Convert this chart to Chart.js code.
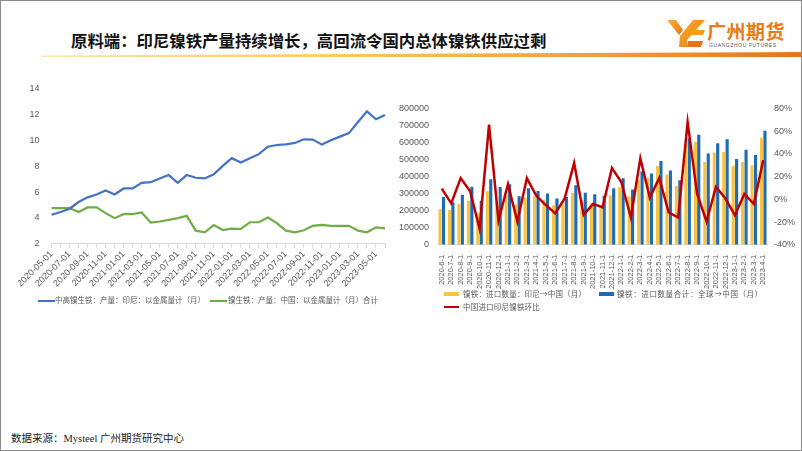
<!DOCTYPE html>
<html><head><meta charset="utf-8">
<script src="https://cdn.jsdelivr.net/npm/chart.js@4/dist/chart.umd.min.js"></script>
<style>
html,body{margin:0;padding:0;background:#fff;}
#slide{position:relative;width:802px;height:451px;overflow:hidden;box-sizing:border-box;border:1px solid #8a8a8a;font-family:"Noto Sans CJK SC","Noto Sans",sans-serif;}
#title{position:absolute;left:70px;top:27px;font-size:16.4px;font-weight:bold;color:#111;white-space:nowrap;letter-spacing:0px;}
#rule{position:absolute;left:40px;top:51px;width:762px;height:5px;background:linear-gradient(to right,#fde7a8 0%,#f8c75a 40%,#f0952e 80%,#e8731a 100%);clip-path:polygon(0 70%,100% 0,100% 100%,0 100%);}
#logoTxt{position:absolute;left:706px;top:16px;font-size:19px;font-weight:bold;color:#e77b14;letter-spacing:0.5px;white-space:nowrap;}
#logoSub{position:absolute;left:708px;top:41px;font-size:5px;color:#555;letter-spacing:0.6px;white-space:nowrap;font-family:"Liberation Sans",sans-serif;}
#c1wrap{position:absolute;left:17px;top:73px;width:384px;height:216px;}
#c2wrap{position:absolute;left:386px;top:94px;width:414px;height:196px;}
.leg{position:absolute;white-space:nowrap;color:#595959;}
.sw{position:absolute;}
#foot{position:absolute;left:10px;top:429px;font-size:10.5px;color:#222;font-family:"Liberation Serif","Noto Sans CJK SC",serif;white-space:nowrap;}
</style></head>
<body>
<div id="slide">
  <div id="title">原料端：印尼镍铁产量持续增长，高回流令国内总体镍铁供应过剩</div>
  <div id="rule"></div>
  <svg style="position:absolute;left:666px;top:17px" width="40" height="30" viewBox="0 0 40 30">
    <defs><linearGradient id="lg" x1="0" y1="0" x2="1" y2="1"><stop offset="0" stop-color="#f9b233"/><stop offset="1" stop-color="#e8731a"/></linearGradient></defs>
    <polygon points="0,2 9,2 16,12 12,17" fill="url(#lg)"/>
    <polygon points="13,18 26,2 38,2 20,22 20,29 12,29" fill="url(#lg)"/>
    <polygon points="24,12 38,12 36,17 22,17" fill="#f39c1e"/>
    <polygon points="21,23 36,23 34,29 20,29" fill="#e8731a"/>
  </svg>
  <div id="logoTxt">广州期货</div>
  <div id="logoSub">GUANGZHOU FUTURES</div>

  <div id="c1wrap"><canvas id="c1"></canvas></div>
  <div id="c2wrap"><canvas id="c2"></canvas></div>

  <!-- left legend -->
  <div class="sw" style="left:37px;top:299px;width:17px;height:2px;background:#4472c4"></div>
  <div class="leg" style="left:54px;top:293px;font-size:7.5px;">中高镍生铁：产量：印尼：以金属量计（月）</div>
  <div class="sw" style="left:209px;top:299px;width:17px;height:2px;background:#70ad47"></div>
  <div class="leg" style="left:227px;top:293px;font-size:7.5px;">镍生铁：产量：中国：以金属量计（月）合计</div>

  <!-- right legend -->
  <div class="sw" style="left:443px;top:291px;width:15px;height:4px;background:#f6c342"></div>
  <div class="leg" style="left:462px;top:287px;font-size:7.5px;letter-spacing:0.2px;">镍铁：进口数量：印尼→中国（月）</div>
  <div class="sw" style="left:598px;top:291px;width:15px;height:4px;background:#1f6bb5"></div>
  <div class="leg" style="left:616px;top:287px;font-size:7.5px;letter-spacing:0.6px;">镍铁：进口数量合计：全球→中国（月）</div>
  <div class="sw" style="left:443px;top:305px;width:15px;height:2px;background:#c00000"></div>
  <div class="leg" style="left:462px;top:300px;font-size:7.5px;letter-spacing:0.2px;">中国进口印尼镍铁环比</div>

  <div id="foot">数据来源：Mysteel 广州期货研究中心</div>
</div>
<script>
// ---- left chart data ----
const leftCats = ['2020-05-01','2020-06-01','2020-07-01','2020-08-01','2020-09-01','2020-10-01','2020-11-01','2020-12-01',
 '2021-01-01','2021-02-01','2021-03-01','2021-04-01','2021-05-01','2021-06-01','2021-07-01','2021-08-01','2021-09-01','2021-10-01','2021-11-01','2021-12-01',
 '2022-01-01','2022-02-01','2022-03-01','2022-04-01','2022-05-01','2022-06-01','2022-07-01','2022-08-01','2022-09-01','2022-10-01','2022-11-01','2022-12-01',
 '2023-01-01','2023-02-01','2023-03-01','2023-04-01','2023-05-01','2023-06-01'];
const indoNPI = [4.25,4.46,4.72,5.24,5.6,5.82,6.13,5.82,6.29,6.29,6.73,6.78,7.07,7.33,6.73,7.33,7.12,7.07,7.39,8.04,8.64,8.3,8.64,8.95,9.53,9.66,9.71,9.82,10.1,10.08,9.69,10.03,10.31,10.58,11.44,12.27,11.65,11.98];
const chinaNPI = [4.77,4.77,4.77,4.46,4.82,4.82,4.38,3.99,4.3,4.3,4.43,3.65,3.73,3.86,3.99,4.17,3.02,2.89,3.46,3.07,3.18,3.15,3.67,3.67,4.04,3.6,3.02,2.89,3.05,3.39,3.46,3.39,3.39,3.39,3.02,2.89,3.28,3.2];
const leftYTicks = [2,4,6,8,10,12,14];

// ---- right chart data ----
const rightCats = ['2020-6-1','2020-7-1','2020-8-1','2020-9-1','2020-10-1','2020-11-1','2020-12-1',
 '2021-1-1','2021-2-1','2021-3-1','2021-4-1','2021-5-1','2021-6-1','2021-7-1','2021-8-1','2021-9-1','2021-10-1','2021-11-1','2021-12-1',
 '2022-1-1','2022-2-1','2022-3-1','2022-4-1','2022-5-1','2022-6-1','2022-7-1','2022-8-1','2022-9-1','2022-10-1','2022-11-1','2022-12-1',
 '2023-1-1','2023-2-1','2023-3-1','2023-4-1'];
const indoImport = [208000,204000,239000,258000,185000,314000,256000,289000,236000,276000,283000,265000,232000,237000,305000,262000,245000,220000,290000,337000,283000,385000,395000,462000,412000,345000,590000,605000,485000,541000,545000,463000,485000,465000,628000];
const totalImport = [281000,250000,293000,341000,258000,385000,339000,355000,285000,332000,316000,301000,272000,281000,349000,305000,297000,287000,332000,391000,325000,431000,418000,492000,436000,378000,624000,646000,536000,596000,619000,503000,557000,526000,669000];
const indoMoM = [9.4,-3.5,18.7,7.1,-26,65.8,-18.6,13.2,-19.5,18.7,3.1,-5,-12.3,0.8,32,-13.7,-4,-7,27.5,15,-16,36,1.5,18.7,-11.5,-16,68,5,-19.5,11,0.7,-14,4.7,-4,34.5];

const tickColor = '#595959';
const tickFont = {family:"'Liberation Sans','Noto Sans',sans-serif", size:9};

new Chart(document.getElementById('c1'), {
  type:'line',
  data:{labels:leftCats, datasets:[
    {label:'中高镍生铁：产量：印尼：以金属量计（月）', data:indoNPI, borderColor:'#4472c4', borderWidth:2.2, pointRadius:0, tension:0},
    {label:'镍生铁：产量：中国：以金属量计（月）合计', data:chinaNPI, borderColor:'#70ad47', borderWidth:2.2, pointRadius:0, tension:0}
  ]},
  options:{responsive:true, maintainAspectRatio:false, animation:false,
    layout:{padding:{top:15,right:17,left:0,bottom:0}},
    plugins:{legend:{display:false}, tooltip:{enabled:false}},
    scales:{
      x:{grid:{display:true,drawOnChartArea:false,tickLength:4,color:'#d9d9d9'}, border:{color:'#d9d9d9'},
        ticks:{color:tickColor, font:tickFont, autoSkip:false, minRotation:45, maxRotation:45, padding:1,
          callback:function(v,i){return i%2===0 ? leftCats[i] : '';}}},
      y:{min:2,max:14, grid:{display:false}, border:{display:false},
        afterBuildTicks:function(s){s.ticks = leftYTicks.map(v=>({value:v}));},
        ticks:{color:tickColor, font:tickFont, padding:4}}
    }
  }
});

new Chart(document.getElementById('c2'), {
  data:{labels:rightCats, datasets:[
    {type:'line', label:'中国进口印尼镍铁环比', data:indoMoM, yAxisID:'y1', borderColor:'#c00000', borderWidth:2.5, pointRadius:0, tension:0, order:0},
    {type:'bar', label:'镍铁：进口数量：印尼→中国（月）', data:indoImport, yAxisID:'y', backgroundColor:'#f6c342', order:1, categoryPercentage:0.72, barPercentage:0.92},
    {type:'bar', label:'镍铁：进口数量合计：全球→中国（月）', data:totalImport, yAxisID:'y', backgroundColor:'#1f6bb5', order:1, categoryPercentage:0.72, barPercentage:0.92}
  ]},
  options:{responsive:true, maintainAspectRatio:false, animation:false,
    layout:{padding:{top:5,right:0,left:4,bottom:0}},
    plugins:{legend:{display:false}, tooltip:{enabled:false}},
    scales:{
      x:{grid:{display:false}, border:{color:'#d9d9d9'},
        ticks:{color:tickColor, font:{family:tickFont.family,size:7.5}, autoSkip:false, minRotation:90, maxRotation:90, padding:2}},
      y:{position:'left', min:0, max:800000, grid:{display:false,drawTicks:false}, border:{display:false},
        ticks:{stepSize:100000, color:tickColor, font:tickFont, padding:8, callback:v=>String(v)}},
      y1:{position:'right', min:-40, max:80, grid:{display:false,drawTicks:false}, border:{display:false},
        ticks:{stepSize:20, color:tickColor, font:tickFont, padding:6, callback:v=>v+'%'}}
    }
  }
});
</script>
</body></html>
